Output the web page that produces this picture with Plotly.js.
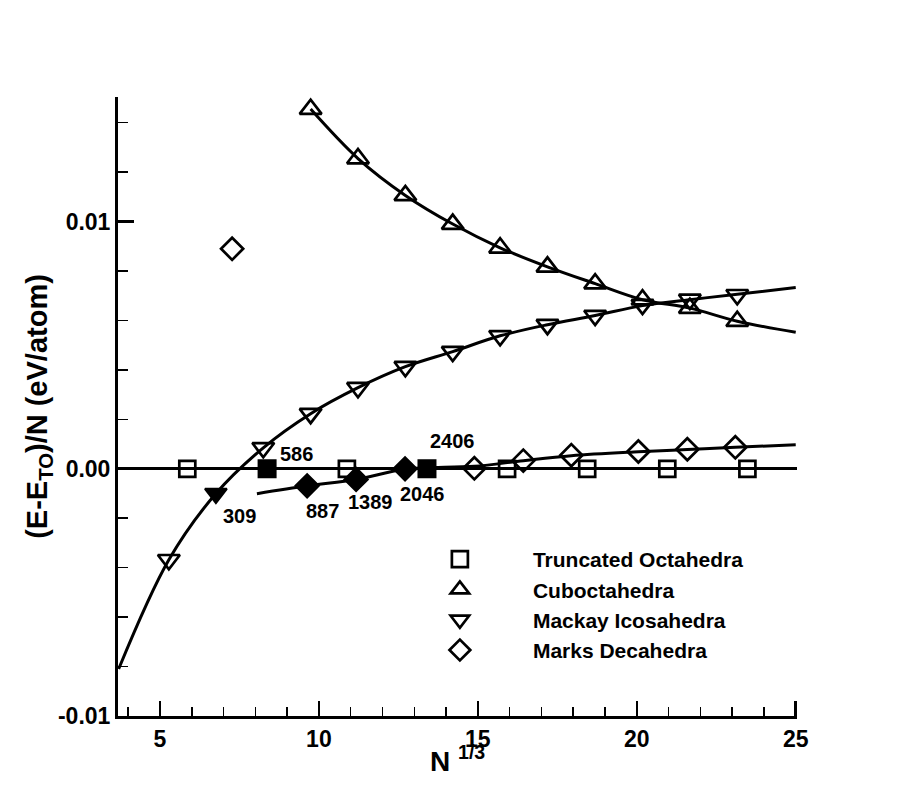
<!DOCTYPE html>
<html lang="en">
<head>
  <meta charset="UTF-8">
  <title>Cluster energies vs N^(1/3)</title>
  <script src="https://cdn.plot.ly/plotly-3.0.1.min.js" charset="utf-8"></script>
  <style>
    body { margin: 0; background: #fff; }
    #chart { width: 906px; height: 806px; }
  </style>
</head>
<body>
  <div id="chart"></div>
  <script>
    // Truncated octahedra (open) and the two filled ones
    const toX = [5.86, 10.88, 15.92, 18.44, 20.96, 23.48];
    const toY = [0, 0, 0, 0, 0, 0];
    const toFillX = [8.37, 13.40];
    const toFillY = [0, 0];
    const toFillLabels = ["586", "2406"];

    // Cuboctahedra
    const cuboX = [9.74, 11.23, 12.72, 14.21, 15.70, 17.19, 18.69, 20.18, 21.67, 23.16];
    const cuboY = [0.01455, 0.01255, 0.01106, 0.00990, 0.00894, 0.00817, 0.00749, 0.00684, 0.00650, 0.00597];
    const cuboFitX = [9.74, 11.23, 12.72, 14.21, 15.70, 17.19, 18.69, 20.18, 21.67, 23.16, 25.0];
    const cuboFitY = [0.01455, 0.01255, 0.01106, 0.00990, 0.00894, 0.00817, 0.00749, 0.00684, 0.00650, 0.00597, 0.00552];

    // Mackay icosahedra (309 is filled)
    const mackX = [5.28, 8.25, 9.74, 11.23, 12.72, 14.21, 15.70, 17.19, 18.69, 20.18, 21.67, 23.16];
    const mackY = [-0.00368, 0.00085, 0.00223, 0.00328, 0.00413, 0.00474, 0.00538, 0.00583, 0.00620, 0.00664, 0.00685, 0.00704];
    const mackFillX = [6.76];
    const mackFillY = [-0.00100];
    const mackFillLabels = ["309"];
    const mackFitX = [3.70, 5.28, 6.76, 8.25, 9.74, 11.23, 12.72, 14.21, 15.70, 17.19, 18.69, 20.18, 21.67, 23.16, 25.0];
    const mackFitY = [-0.00810, -0.00368, -0.00100, 0.00085, 0.00223, 0.00328, 0.00413, 0.00474, 0.00538, 0.00583, 0.00620, 0.00660, 0.00684, 0.00706, 0.00733];

    // Marks decahedra (887, 1389, 2046 are filled)
    const decaX = [7.27, 14.89, 16.43, 17.94, 20.05, 21.59, 23.10];
    const decaY = [0.00890, 0.00002, 0.00033, 0.00055, 0.00070, 0.00079, 0.00087];
    const decaFillX = [9.63, 11.17, 12.71];
    const decaFillY = [-0.00069, -0.00043, 0.0];
    const decaFillLabels = ["887", "1389", "2046"];
    const decaFitX = [8.05, 9.63, 11.17, 12.71, 14.89, 16.43, 17.94, 20.05, 21.59, 23.10, 25.0];
    const decaFitY = [-0.00101, -0.00069, -0.00043, -0.00002, 0.00010, 0.00033, 0.00053, 0.00069, 0.00078, 0.00087, 0.00097];

    const FONT = "Liberation Sans, Arial, Helvetica, sans-serif";

    function openPts(x, y, sym, size, name) {
      return {
        x: x, y: y, name: name, type: "scatter", mode: "markers",
        marker: { symbol: sym, size: size, color: "black", line: { color: "black", width: 2.7 } },
        cliponaxis: false
      };
    }
    function filledPts(x, y, sym, size) {
      return {
        x: x, y: y, type: "scatter", mode: "markers", showlegend: false,
        marker: { symbol: sym, size: size, color: "black", line: { color: "black", width: 2 } }
      };
    }
    function fit(x, y) {
      return {
        x: x, y: y, type: "scatter", mode: "lines", showlegend: false, hoverinfo: "skip",
        line: { color: "black", width: 3, shape: "spline", smoothing: 1 }
      };
    }

    const data = [
      fit(cuboFitX, cuboFitY),
      fit(mackFitX, mackFitY),
      fit(decaFitX, decaFitY),
      openPts(toX, toY, "square-open", 16, "Truncated Octahedra"),
      openPts(cuboX, cuboY, "triangle-up-open", 19, "Cuboctahedra"),
      openPts(mackX, mackY, "triangle-down-open", 19, "Mackay Icosahedra"),
      openPts(decaX, decaY, "diamond-open", 17, "Marks Decahedra"),
      filledPts(toFillX, toFillY, "square", 17),
      filledPts(mackFillX, mackFillY, "triangle-down", 19),
      filledPts(decaFillX, decaFillY, "diamond", 18)
    ];

    // labels next to the filled markers, offsets in pixels
    const annotations = [];
    function addLabels(xs, ys, labels, shifts) {
      for (let i = 0; i < xs.length; i++) {
        annotations.push({
          x: xs[i], y: ys[i], text: labels[i], showarrow: false,
          xshift: shifts[i][0], yshift: shifts[i][1],
          font: { family: FONT, size: 20, color: "black", weight: "bold" }
        });
      }
    }
    addLabels(toFillX, toFillY, toFillLabels, [[29, 15], [26, 28]]);
    addLabels(mackFillX, mackFillY, mackFillLabels, [[24, -22]]);
    addLabels(decaFillX, decaFillY, decaFillLabels, [[15, -25], [14, -23], [17, -25]]);

    // x axis title, set as an annotation so it can sit close to the tick labels
    annotations.push({
      xref: "paper", yref: "paper", x: 0.5, y: 0, xanchor: "center", yanchor: "middle",
      yshift: -43, showarrow: false, text: "N <sup>1/3</sup>",
      font: { family: FONT, size: 28, color: "black", weight: "bold" }
    });

    const axisFont = { family: FONT, size: 23, color: "black", weight: "bold" };

    const layout = {
      width: 906, height: 806,
      margin: { l: 118, r: 109, t: 97, b: 90 },
      paper_bgcolor: "white", plot_bgcolor: "white",
      showlegend: true,
      legend: {
        x: 0.396, y: 0.286, xanchor: "left", yanchor: "top",
        bgcolor: "rgba(0,0,0,0)", itemwidth: 136, tracegroupgap: 0,
        font: { family: FONT, size: 21, color: "black", weight: "bold" }
      },
      xaxis: {
        range: [3.68, 25.04], showgrid: false, zeroline: false,
        showline: true, linewidth: 3, linecolor: "black",
        tick0: 0, dtick: 5, ticks: "inside", ticklen: 15, tickwidth: 2.5, tickcolor: "black",
        minor: { dtick: 1, ticks: "inside", ticklen: 9, tickwidth: 1.5, tickcolor: "black" },
        tickfont: axisFont
      },
      yaxis: {
        range: [-0.01, 0.01504], showgrid: false,
        zeroline: true, zerolinecolor: "black", zerolinewidth: 2.6,
        showline: true, linewidth: 3, linecolor: "black",
        tickmode: "array", tickvals: [-0.01, 0, 0.01], ticktext: ["-0.01", "0.00", "0.01"],
        ticks: "inside", ticklen: 16, tickwidth: 2.5, tickcolor: "black",
        minor: { tickmode: "linear", tick0: 0, dtick: 0.002, ticks: "inside", ticklen: 10, tickwidth: 1.5, tickcolor: "black" },
        tickfont: axisFont,
        title: { text: "(E-E<sub>TO</sub>)/N (eV/atom)", standoff: 2, font: { family: FONT, size: 29, color: "black", weight: "bold" } }
      },
      annotations: annotations
    };

    Plotly.newPlot("chart", data, layout, { displayModeBar: false, staticPlot: true });
  </script>
</body>
</html>
